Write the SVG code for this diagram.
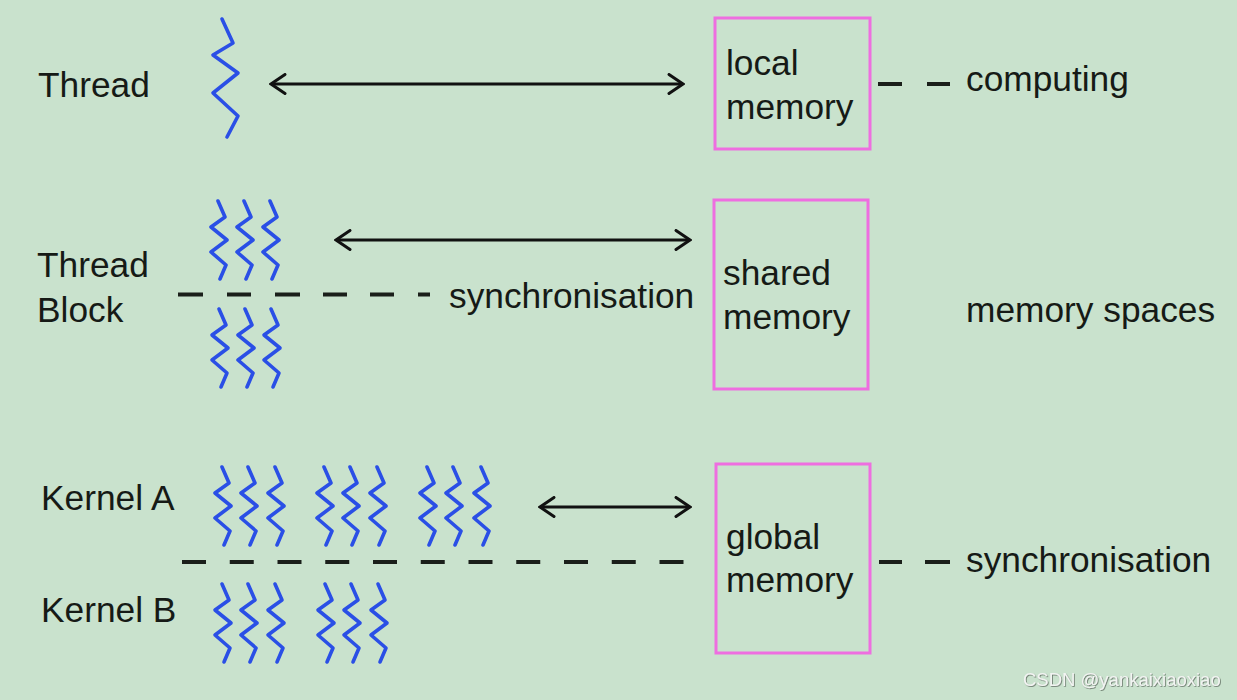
<svg xmlns="http://www.w3.org/2000/svg" xmlns:xlink="http://www.w3.org/1999/xlink" width="1237" height="700" viewBox="0 0 1237 700">
<defs>
<style>
text{font-family:"Liberation Sans",Arial,Helvetica,sans-serif;font-size:35.3px;fill:#161a16}
.sq{fill:none;stroke:#2a4fe6;stroke-width:3.6;stroke-linejoin:round;stroke-linecap:round}
.box{fill:none;stroke:#ee6ee0;stroke-width:3}
.arr{stroke:#111;stroke-width:3;fill:none}
.dash{stroke:#1a1f1a;stroke-width:4;fill:none}
.wm{font-size:18.5px;fill:#f2f4f2;filter:url(#sh)}
</style>
<marker id="ah" viewBox="-17 -11 19 22" refX="0" refY="0" markerWidth="19" markerHeight="22" markerUnits="userSpaceOnUse" orient="auto-start-reverse">
<path d="M-14,-9.5 L0,0 L-14,9.5" fill="none" stroke="#111" stroke-width="3" stroke-linejoin="miter" stroke-linecap="round"/>
</marker>
<path id="sq" class="sq" d="M0,0 L7,16 L-7,26 L9,39 L-7,51 L8,64 L2,78"/>
<filter id="sh" x="-5%" y="-30%" width="110%" height="160%">
<feDropShadow dx="0.8" dy="0.8" stdDeviation="0.6" flood-color="#5d6b5f" flood-opacity="0.9"/>
</filter>
</defs>
<rect width="1237" height="700" fill="#c9e2cd"/>

<g id="thread">
<text x="38" y="97">Thread</text>
<path class="sq" d="M222,19 L233,43 L213,55 L238,73 L213,93 L238,116 L227,137"/>
</g>

<g id="thread-block">
<text x="37" y="277">Thread</text>
<text x="37" y="322">Block</text>
<use xlink:href="#sq" href="#sq" x="218" y="201"/>
<use xlink:href="#sq" href="#sq" x="244" y="201"/>
<use xlink:href="#sq" href="#sq" x="270" y="201"/>
<use xlink:href="#sq" href="#sq" x="219" y="309"/>
<use xlink:href="#sq" href="#sq" x="245" y="309"/>
<use xlink:href="#sq" href="#sq" x="271" y="309"/>
</g>

<g id="kernel-a">
<text x="41" y="510">Kernel A</text>
<use xlink:href="#sq" href="#sq" x="222" y="467"/>
<use xlink:href="#sq" href="#sq" x="248" y="467"/>
<use xlink:href="#sq" href="#sq" x="275" y="467"/>
<use xlink:href="#sq" href="#sq" x="324" y="467"/>
<use xlink:href="#sq" href="#sq" x="350" y="467"/>
<use xlink:href="#sq" href="#sq" x="377" y="467"/>
<use xlink:href="#sq" href="#sq" x="427" y="467"/>
<use xlink:href="#sq" href="#sq" x="453" y="467"/>
<use xlink:href="#sq" href="#sq" x="481" y="467"/>
</g>

<g id="kernel-b">
<text x="41" y="622">Kernel B</text>
<use xlink:href="#sq" href="#sq" x="222" y="584"/>
<use xlink:href="#sq" href="#sq" x="248" y="584"/>
<use xlink:href="#sq" href="#sq" x="275" y="584"/>
<use xlink:href="#sq" href="#sq" x="325" y="584"/>
<use xlink:href="#sq" href="#sq" x="351" y="584"/>
<use xlink:href="#sq" href="#sq" x="378" y="584"/>
</g>

<g id="local-memory">
<rect class="box" x="715" y="18" width="155" height="131"/>
<text x="726" y="75">local</text>
<text x="726" y="119">memory</text>
</g>

<g id="shared-memory">
<rect class="box" x="714" y="200" width="154" height="189"/>
<text x="723" y="285">shared</text>
<text x="723" y="329">memory</text>
</g>

<g id="global-memory">
<rect class="box" x="716" y="464" width="154" height="189"/>
<text x="726" y="549">global</text>
<text x="726" y="592">memory</text>
</g>

<g id="labels">
<text x="966" y="91">computing</text>
<text x="449" y="308">synchronisation</text>
<text x="966" y="322">memory spaces</text>
<text x="966" y="572">synchronisation</text>
<text class="wm" x="1023" y="686">CSDN @yankaixiaoxiao</text>
</g>

<g id="connectors">
<line class="arr" x1="271" y1="84" x2="683" y2="84" marker-start="url(#ah)" marker-end="url(#ah)"/>
<line class="arr" x1="336" y1="240" x2="690" y2="240" marker-start="url(#ah)" marker-end="url(#ah)"/>
<line class="arr" x1="540" y1="507" x2="690" y2="507" marker-start="url(#ah)" marker-end="url(#ah)"/>
<path class="dash" d="M878,84 H902 M927,84 H950"/>
<path class="dash" d="M178,294.5 H203 M227,294.5 H251 M275,294.5 H300 M323,294.5 H347 M370,294.5 H394 M418,294.5 H430"/>
<path class="dash" d="M182,562 H706" stroke-dasharray="24 23.75"/>
<path class="dash" d="M879,562 H902 M925,562 H950"/>
</g>
</svg>
